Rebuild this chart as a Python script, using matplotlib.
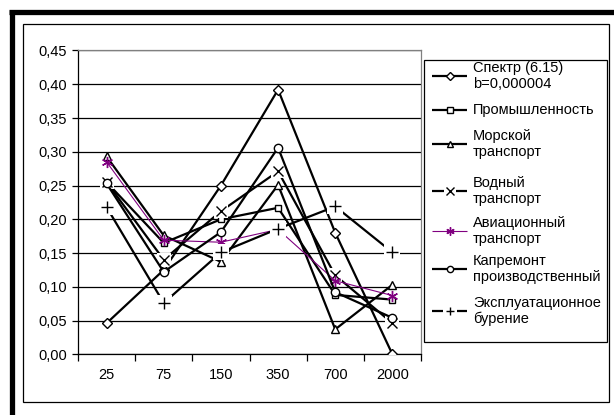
import matplotlib
matplotlib.use("Agg")
import matplotlib.pyplot as plt
from matplotlib.lines import Line2D
from matplotlib.patches import Rectangle

plt.rcParams['font.family'] = ['Liberation Sans', 'DejaVu Sans']

categories = ["25", "75", "150", "350", "700", "2000"]

spektr = [0.046, 0.125, 0.250, 0.392, 0.180, 0.000]
promyshl = [0.255, 0.165, 0.200, 0.217, 0.088, 0.081]
morskoy = [0.293, 0.176, 0.137, 0.251, 0.037, 0.103]
vodny = [0.255, 0.140, 0.212, 0.271, 0.117, 0.046]
avia = [0.285, 0.169, 0.166, 0.185, 0.109, 0.087]
kapremont = [0.253, 0.122, 0.181, 0.306, 0.092, 0.054]
ekspl = [0.218, 0.076, 0.151, 0.186, 0.219, 0.151]

labels = [
    "Спектр (6.15)\nb=0,000004",
    "Промышленность",
    "Морской\nтранспорт",
    "Водный\nтранспорт",
    "Авиационный\nтранспорт",
    "Капремонт\nпроизводственный",
    "Эксплуатационное\nбурение",
]

yticks = [0.00, 0.05, 0.10, 0.15, 0.20, 0.25, 0.30, 0.35, 0.40, 0.45]

W, H = 614, 415
PURPLE = "#800080"

# marker, size, filled-with-white, needs white backing box, colour, line width
styles = [
    ("D", 5.5, True, False, "black", 1.6),
    ("s", 5.0, True, False, "black", 1.6),
    ("^", 6.0, True, False, "black", 1.6),
    ("x", 7.0, False, True, "black", 1.6),
    ((6, 2, 0), 8.0, False, False, PURPLE, 0.8),
    ("o", 6.0, True, False, "black", 1.6),
    ("+", 8.5, False, True, "black", 1.6),
]
series = [spektr, promyshl, morskoy, vodny, avia, kapremont, ekspl]


def fx(x):
    return x / W


def fy(y):
    return 1 - y / H


fig = plt.figure(figsize=(W / 100, H / 100), dpi=100)
fig.patch.set_facecolor("white")

# chart frame: thin inner border and heavy top/left edge
fig.add_artist(Rectangle((fx(23), fy(402)), fx(609) - fx(23), fy(24) - fy(402),
                         transform=fig.transFigure, fill=False, ec="black", lw=0.9))
fig.add_artist(Line2D([fx(9), fx(614)], [fy(12), fy(12)], transform=fig.transFigure,
                      color="black", lw=3.8, solid_capstyle="butt"))
fig.add_artist(Line2D([fx(11.5), fx(11.5)], [fy(10), fy(415)], transform=fig.transFigure,
                      color="black", lw=3.8, solid_capstyle="butt"))

ax = fig.add_axes([fx(78), fy(354.3), fx(421) - fx(78), fy(50.5) - fy(354.3)])
ax.set_facecolor("white")

x = list(range(len(categories)))
for i, (vals, st) in enumerate(zip(series, styles)):
    mk, ms, filled, backing, col, lw = st
    z = 3 + i * 0.1
    ax.plot(x, vals, color=col, lw=lw, zorder=z, solid_joinstyle="miter")
    if backing:
        ax.plot(x, vals, ls="none", marker="s", ms=ms + 3, mfc="white", mec="white",
                mew=0, zorder=z + 0.01)
    if filled:
        ax.plot(x, vals, ls="none", marker=mk, ms=ms, mfc="white", mec=col, mew=1.0,
                zorder=z + 0.02)
    else:
        ax.plot(x, vals, ls="none", marker=mk, ms=ms, mec=col, mew=1.0, zorder=z + 0.02)

ax.set_xlim(-0.5, len(categories) - 0.5)
ax.set_ylim(0, 0.45)
ax.set_yticks(yticks)
ax.set_yticklabels([f"{v:.2f}".replace(".", ",") for v in yticks], fontsize=10.5)
ax.yaxis.grid(True, color="black", lw=0.9)
ax.set_axisbelow(True)

ax.set_xticks([i - 0.5 for i in range(len(categories) + 1)])
ax.set_xticklabels([])
ax.set_xticks(x, minor=True)
ax.set_xticklabels(categories, minor=True, fontsize=10.5)
ax.tick_params(axis="x", which="major", length=5, width=0.9, direction="out", color="black")
ax.tick_params(axis="x", which="minor", length=0, pad=10)
ax.tick_params(axis="y", length=4, width=0.9, direction="out", pad=4)

for side in ("top", "right"):
    ax.spines[side].set_color("#808080")
    ax.spines[side].set_linewidth(0.9)
for side in ("left", "bottom"):
    ax.spines[side].set_color("black")
    ax.spines[side].set_linewidth(0.9)
    ax.spines[side].set_zorder(2.5)

# legend
fig.add_artist(Rectangle((fx(424), fy(342)), fx(607) - fx(424), fy(60) - fy(342),
                         transform=fig.transFigure, fc="white", ec="black", lw=0.9))
entry_y = [76, 110, 144, 191, 231, 269, 311]
for lab, st, ey in zip(labels, styles, entry_y):
    mk, ms, filled, backing, col, lw = st
    lms = ms * 0.75
    fig.add_artist(Line2D([fx(432), fx(467)], [fy(ey), fy(ey)], transform=fig.transFigure,
                          color=col, lw=lw, solid_capstyle="butt"))
    if backing:
        fig.add_artist(Line2D([fx(450)], [fy(ey)], transform=fig.transFigure, ls="none",
                              marker="s", ms=lms + 3, mfc="white", mec="white", mew=0))
    fig.add_artist(Line2D([fx(450)], [fy(ey)], transform=fig.transFigure, ls="none",
                          marker=mk, ms=lms, mfc="white" if filled else col, mec=col, mew=1.0))
    fig.text(fx(473), fy(ey), lab, fontsize=10.5, va="center", ha="left",
             linespacing=1.15)

fig.savefig("out.png", dpi=100, facecolor="white")
